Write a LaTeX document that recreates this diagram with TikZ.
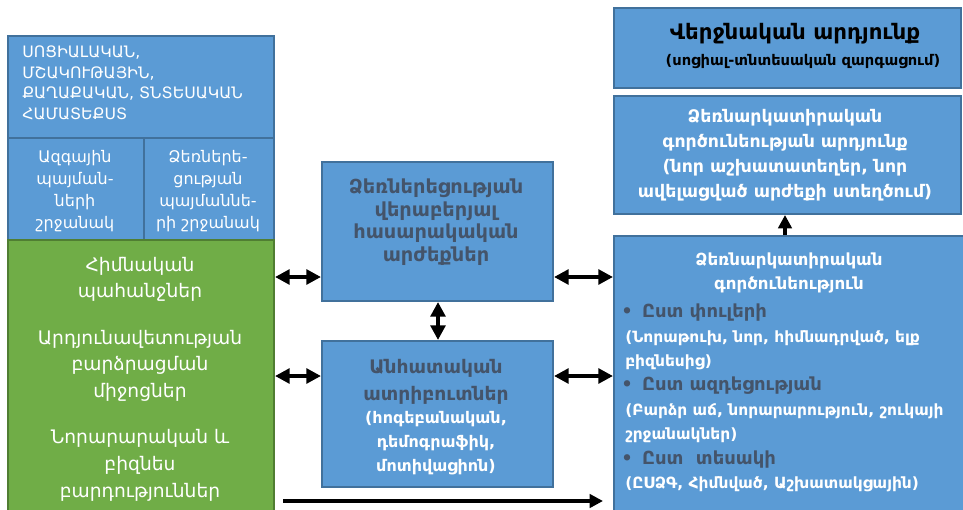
\documentclass[tikz,border=0pt]{standalone}
\usepackage{fontspec}
\setmainfont{DejaVu Sans}
\usetikzlibrary{arrows.meta}
\definecolor{bfill}{HTML}{5B9BD5}
\definecolor{bdraw}{HTML}{41719C}
\definecolor{gfill}{HTML}{70AD47}
\definecolor{gdraw}{HTML}{507E32}
\definecolor{dtext}{HTML}{44546A}
\begin{document}
\begin{tikzpicture}[x=0.75pt,y=-0.75pt,
 box/.style={draw=bdraw, fill=bfill, line width=1.5pt, inner sep=0pt, anchor=north west},
 gbox/.style={box, draw=gdraw, fill=gfill},
 wtxt/.style={text=white, align=center, inner sep=0pt},
 dtxt/.style={text=dtext, align=center, inner sep=0pt},
 dbl/.style={{Triangle[length=11pt,width=11pt]}-{Triangle[length=11pt,width=11pt]}, line width=2.8pt},
 one/.style={-{Triangle[length=10pt,width=10pt]}, line width=2.8pt}
]
\useasboundingbox (0,0) rectangle (963,510);
\clip (0,0) rectangle (963,510);
\fill[white] (0,0) rectangle (963,510);
% boxes
\node[box, minimum width=199.5pt, minimum height=76.5pt] (hdr) at (7,35) {};
\node[box, minimum width=102pt, minimum height=76.5pt] (natl) at (7,137) {};
\node[box, minimum width=97.5pt, minimum height=76.5pt] (entr) at (143,137) {};
\node[gbox, minimum width=199.5pt, minimum height=206pt] (green) at (7,239) {};
\node[box, minimum width=173.25pt, minimum height=104.25pt] (values) at (321,161) {};
\node[box, minimum width=173.25pt, minimum height=109.5pt] (attr) at (321,340) {};
\node[box, minimum width=260.25pt, minimum height=60pt] (final) at (613,7) {};
\node[box, minimum width=260.25pt, minimum height=88.5pt] (result) at (613,95) {};
\node[box, minimum width=264pt, minimum height=210pt] (activity) at (613,235) {};
% texts
\node[wtxt, anchor=west, align=left, font=\fontsize{11.8}{15.5}\selectfont] (hdrt) at (22,83)
 {ՍՈՑԻԱԼԱԿԱՆ,\\ՄՇԱԿՈՒԹԱՅԻՆ,\\ՔԱՂԱՔԱԿԱՆ, ՏՆՏԵՍԱԿԱՆ\\ՀԱՄԱՏԵՔՍՏ};
\node[wtxt, font=\fontsize{12}{16.5}\selectfont] (natlt) at (75,191)
 {Ազգային\\պայման-\\ների\\շրջանակ};
\node[wtxt, font=\fontsize{12}{16.5}\selectfont] (entrt) at (208,191)
 {Ձեռներե-\\ցության\\պայմաննե-\\րի շրջանակ};
\node[wtxt, font=\fontsize{14}{19.9}\selectfont] (greent) at (140,379)
 {Հիմնական\\պահանջներ\\[15pt]Արդյունավետության\\բարձրացման\\միջոցներ\\[15pt]Նորարարական և\\բիզնես\\բարդություններ};
\node[dtxt, font=\fontsize{14.5}{17}\selectfont\bfseries] (valuest) at (436,222)
 {Ձեռներեցության\\վերաբերյալ\\հասարակական\\արժեքներ};
\node[dtxt, font=\fontsize{14}{20.5}\selectfont\bfseries] (attrt) at (436,382)
 {Անհատական\\ատրիբուտներ};
\node[wtxt, font=\fontsize{12}{18}\selectfont\bfseries] (attrp) at (436,443)
 {(հոգեբանական,\\դեմոգրաֆիկ,\\մոտիվացիոն)};
\node[inner sep=0pt, font=\fontsize{16}{20}\selectfont\bfseries] (finalt) at (795,34)
 {Վերջնական արդյունք};
\node[inner sep=0pt, font=\fontsize{11}{16}\selectfont\bfseries] (finalp) at (803,62)
 {(սոցիալ-տնտեսական զարգացում)};
\node[wtxt, font=\fontsize{13}{18.75}\selectfont\bfseries] (resultt) at (785,155)
 {Ձեռնարկատիրական\\գործունեության արդյունք\\(նոր աշխատատեղեր, նոր\\ավելացված արժեքի ստեղծում)};
\node[wtxt, font=\fontsize{12.5}{17.5}\selectfont\bfseries] (actt) at (789,273)
 {Ձեռնարկատիրական\\գործունեություն};
\node[wtxt, anchor=west, align=left, font=\fontsize{11.6}{18.3}\selectfont\bfseries] (actl) at (625,398)
 {{\color{dtext}\fontsize{13.5}{18.3}\selectfont\hspace{-3pt}\textbullet\hspace{7pt}Ըստ փուլերի}\\
  (Նորաթուխ, նոր, հիմնադրված, ելք\\
  բիզնեսից)\\
  {\color{dtext}\fontsize{13.5}{18.3}\selectfont\hspace{-3pt}\textbullet\hspace{7pt}Ըստ ազդեցության}\\
  (Բարձր աճ, նորարարություն, շուկայի\\
  շրջանակներ)\\
  {\color{dtext}\fontsize{13.5}{18.3}\selectfont\hspace{-3pt}\textbullet\hspace{7pt}Ըստ~~տեսակի}\\
  (ԸՍՁԳ, Հիմնված, Աշխատակցային)};
% connectors
\coordinate (ya) at (0,277);
\coordinate (yb) at (0,376);
\coordinate (yc) at (0,501);
\coordinate (xv) at (438,0);
\coordinate (xu) at (785,0);
\draw[dbl] (green.east |- ya) -- (values.west |- ya);
\draw[dbl] (green.east |- yb) -- (attr.west |- yb);
\draw[dbl] (values.east |- ya) -- (activity.west |- ya);
\draw[dbl] (attr.east |- yb) -- (activity.west |- yb);
\draw[dbl] (values.south -| xv) -- (attr.north -| xv);
\draw[one] (activity.north -| xu) -- (result.south -| xu);
\draw[one, shorten <=6pt, shorten >=7.5pt] (green.east |- yc) -- (activity.west |- yc);
\end{tikzpicture}
\end{document}
